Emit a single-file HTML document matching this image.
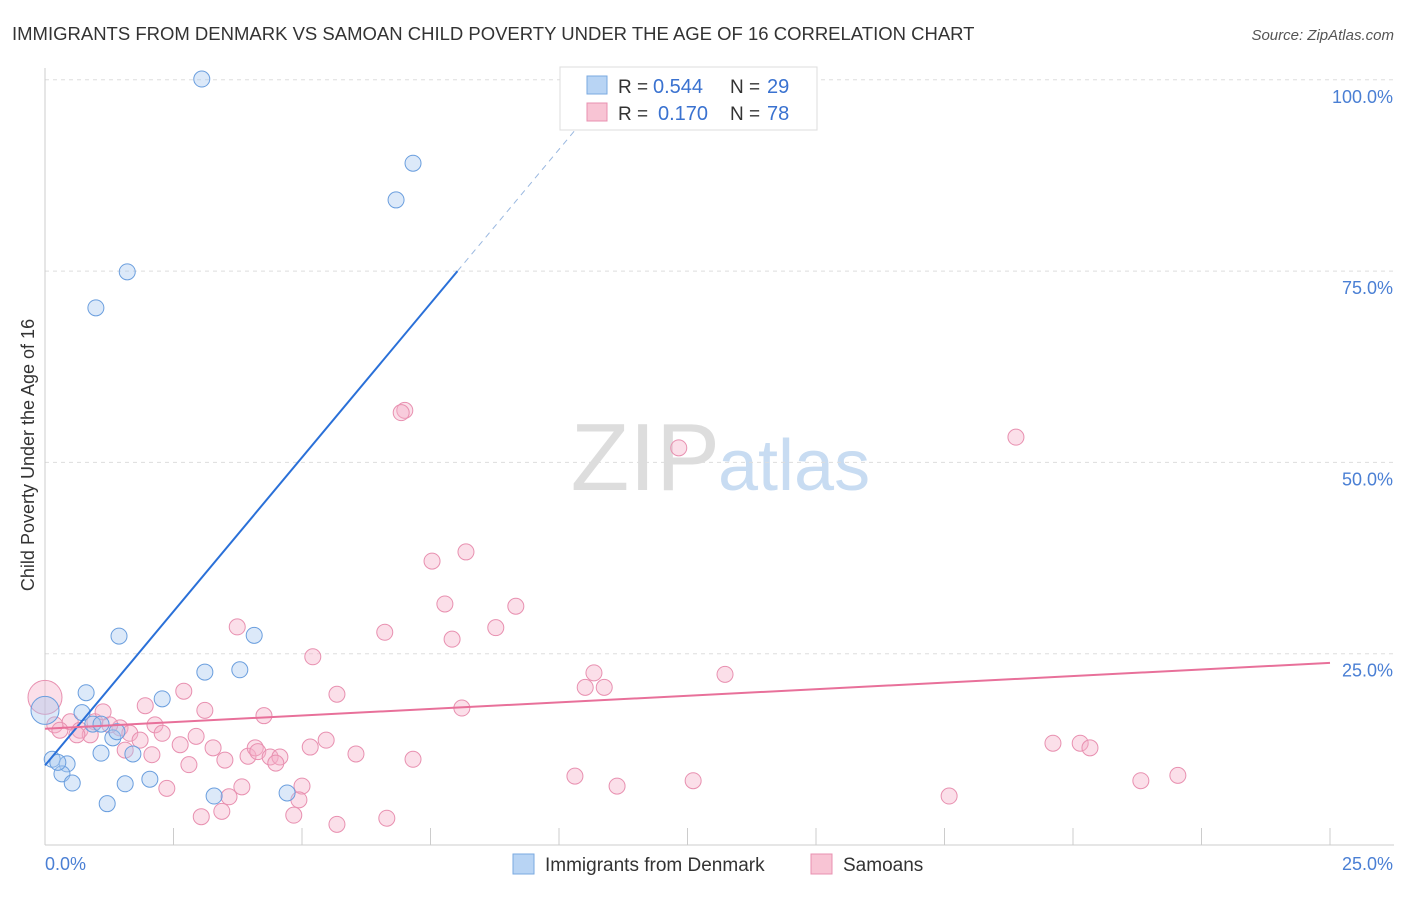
<!DOCTYPE html>
<html><head><meta charset="utf-8"><style>
body{margin:0;background:#fff;font-family:"Liberation Sans",sans-serif;}
svg text{font-family:"Liberation Sans",sans-serif;}
</style></head><body>
<svg id="chart" width="1406" height="892">
<text x="12" y="40" font-size="18.5" fill="#333">IMMIGRANTS FROM DENMARK VS SAMOAN CHILD POVERTY UNDER THE AGE OF 16 CORRELATION CHART</text>
<text x="1394" y="40" font-size="15" fill="#555" font-style="italic" text-anchor="end">Source: ZipAtlas.com</text>
<text x="720" y="490" font-size="96" fill="#ddd" text-anchor="end" font-family="Liberation Serif">ZIP</text>
<text x="718" y="490" font-size="72" fill="#c8dcf2">atlas</text>
<text transform="translate(34,455) rotate(-90)" font-size="18" fill="#333" text-anchor="middle">Child Poverty Under the Age of 16</text>
<g id="grid"></g><g id="marks"></g>
<g>
<rect x="560" y="67" width="257" height="63" fill="#fff" stroke="#ddd"/>
<rect x="587" y="76" width="20" height="18" fill="#b8d4f4" stroke="#7aaae0"/>
<rect x="587" y="103" width="20" height="18" fill="#f8c4d4" stroke="#e890b0"/>
<text x="618" y="93" font-size="19" fill="#333">R =</text>
<text x="653" y="93" font-size="20" fill="#3a72d0">0.544</text>
<text x="730" y="93" font-size="19" fill="#333">N =</text>
<text x="767" y="93" font-size="20" fill="#3a72d0">29</text>
<text x="618" y="120" font-size="19" fill="#333">R =</text>
<text x="658" y="120" font-size="20" fill="#3a72d0">0.170</text>
<text x="730" y="120" font-size="19" fill="#333">N =</text>
<text x="767" y="120" font-size="20" fill="#3a72d0">78</text>
</g>
<g>
<rect x="513" y="854" width="21" height="20" fill="#b8d4f4" stroke="#7aaae0"/>
<text x="545" y="871" font-size="19" fill="#333">Immigrants from Denmark</text>
<rect x="811" y="854" width="21" height="20" fill="#f8c4d4" stroke="#e890b0"/>
<text x="843" y="871" font-size="19" fill="#333">Samoans</text>
</g>
</svg>
<script>
const xTicks=[0,2.5,5,7.5,10,12.5,15,17.5,20,22.5,25];
const yTicks=[25,50,75,100];
const yTickLabels=["25.0%","50.0%","75.0%","100.0%"];
const blueX=[3.05,7.16,6.83,1.60,0.99,1.44,4.07,3.79,3.11,0.80,2.28,0.72,0.93,1.32,0.14,0.43,1.09,1.71,0.33,0.53,1.56,2.04,1.21,3.29,4.71,1.40,1.09,0.25];
const blueY=[100.1,89.1,84.3,74.9,70.2,27.3,27.4,22.9,22.6,19.9,19.1,17.3,15.8,14.0,11.2,10.6,12.0,11.9,9.3,8.1,8.0,8.6,5.4,6.4,6.8,14.8,15.8,10.8];
const pinkX=[7.00,6.93,12.33,18.89,8.19,7.53,7.78,9.16,7.92,8.77,6.61,3.74,5.21,10.68,10.51,10.88,13.23,2.70,5.68,1.95,3.11,4.26,8.11,0.19,0.49,0.68,0.97,1.13,1.46,1.65,2.14,2.28,1.85,2.63,2.94,3.27,3.50,3.95,4.09,4.14,4.38,4.57,4.49,5.16,5.47,6.05,7.16,2.80,2.08,1.56,2.37,3.04,3.44,3.58,3.83,5.00,4.94,4.84,5.68,6.65,10.31,11.13,12.61,17.59,19.61,20.14,20.33,21.32,22.04,0.88,1.26,0.29,0.62];
const pinkY=[56.8,56.5,51.9,53.3,38.3,37.1,31.5,31.2,26.9,28.4,27.8,28.5,24.6,22.5,20.6,20.6,22.3,20.1,19.7,18.2,17.6,16.9,17.9,15.7,16.1,15.0,16.1,17.4,15.3,14.6,15.7,14.6,13.7,13.1,14.2,12.7,11.1,11.6,12.7,12.2,11.5,11.5,10.7,12.8,13.7,11.9,11.2,10.5,11.8,12.4,7.4,3.7,4.4,6.3,7.6,7.7,5.9,3.9,2.7,3.5,9.0,7.7,8.4,6.4,13.3,13.3,12.7,8.4,9.1,14.4,15.7,15.0,14.4];
const bigBlue=[0,17.6], bigPink=[0,19.3];
const blueLine=[10.4,8.05], pinkLine=[15.2,23.8];
const sx=v=>45+v*51.4, sy=v=>845-v*7.652;
const NS="http://www.w3.org/2000/svg";
function mk(t,a,p){const e=document.createElementNS(NS,t);for(const k in a)e.setAttribute(k,a[k]);p.appendChild(e);return e;}
const grid=document.getElementById('grid'), marks=document.getElementById('marks');
yTicks.forEach((v,i)=>{
 const l=mk('line',{x1:45,x2:1394,y1:sy(v),y2:sy(v),stroke:'#ddd','stroke-dasharray':'4,4'},grid);
 
 
 const t=mk('text',{x:1393,y:sy(v)+23,'font-size':18,fill:'#4a7fd4','text-anchor':'end'},grid);t.textContent=yTickLabels[i];
 
 
});
mk('line',{x1:45,x2:1394,y1:sy(0),y2:sy(0),stroke:'#ccc'},grid);
mk('line',{x1:45,x2:45,y1:68,y2:845,stroke:'#ccc'},grid);
xTicks.forEach(v=>{const l=mk('line',{x1:sx(v),x2:sx(v),y1:828,y2:845,stroke:'#ccc'},grid);
 
 });
const x0=mk('text',{x:45,y:870,'font-size':18,fill:'#4a7fd4'},grid);x0.textContent="0.0%";

const x1=mk('text',{x:1393,y:870,'font-size':18,fill:'#4a7fd4','text-anchor':'end'},grid);x1.textContent="25.0%";

function dot(x,y,r,f,s){const c=mk('circle',{cx:sx(x),cy:sy(y),r:r,fill:f,'fill-opacity':0.4,stroke:s,'stroke-width':1},marks);return c;}
pinkX.forEach((x,i)=>{const c=dot(x,pinkY[i],8,'#f4b0c8','#e890b0');
 
 });
const bp=dot(bigPink[0],bigPink[1],17,'#f4b0c8','#e890b0');


blueX.forEach((x,i)=>{const c=dot(x,blueY[i],8,'#a8c8f0','#6a9ede');
 
 });
const bb=dot(bigBlue[0],bigBlue[1],14,'#a8c8f0','#6a9ede');


const xe=(75-blueLine[0])/blueLine[1], xd=(95-blueLine[0])/blueLine[1];
const tl=mk('line',{x1:sx(0),y1:sy(blueLine[0]),x2:sx(xe),y2:sy(75),stroke:'#2a70d8','stroke-width':2},marks);


const td=mk('line',{x1:sx(xe),y1:sy(75),x2:sx(xd),y2:sy(95),stroke:'#9ab8e0','stroke-width':1,'stroke-dasharray':'6,5'},marks);


const pl=mk('line',{x1:sx(0),y1:sy(pinkLine[0]),x2:sx(25),y2:sy(pinkLine[1]),stroke:'#e8709a','stroke-width':2},marks);


</script>
</body></html>
